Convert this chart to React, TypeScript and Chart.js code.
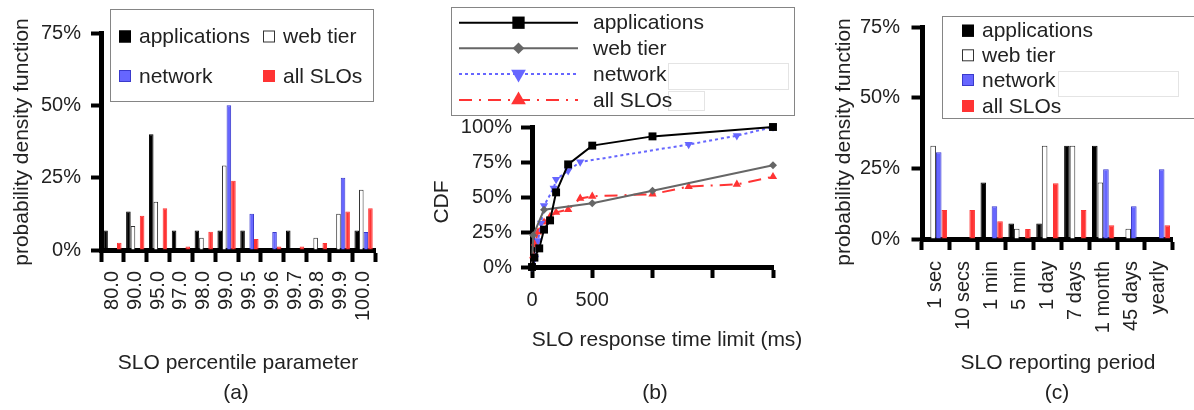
import React, { useEffect, useRef } from 'react';
import { Chart, registerables } from 'chart.js';

Chart.register(...registerables);

const FONT = "'Liberation Sans', Arial, sans-serif";
const TEXT = '#222';
const LABEL_SIZE = 21;

const seriesNames = ['applications', 'web tier', 'network', 'all SLOs'];

// ---------- (a) SLO percentile parameter ----------
const percentileLabels = ['80.0', '90.0', '95.0', '97.0', '98.0', '99.0', '99.5', '99.6', '99.7', '99.8', '99.9', '100.0'];
const pctApps = [6.7, 13.3, 40, 6.7, 6.7, 6.7, 6.7, 0, 6.7, 0, 0, 6.7];
const pctWeb = [0, 8.3, 16.7, 0, 4.2, 29.2, 0, 0, 0, 4.2, 12.5, 20.8];
const pctNet = [0, 0, 0, 0, 0, 50, 12.5, 6.25, 0, 0, 25, 6.25];
const pctAll = [2.5, 11.8, 14.4, 1.2, 6.3, 23.9, 3.8, 1.2, 1.2, 2.4, 13.3, 14.4];

// ---------- (b) SLO response time limit CDF ----------
const appsMs = [0, 20, 60, 100, 150, 200, 300, 500, 1000, 2000];
const appsCdf = [0, 6.7, 13.3, 26.7, 33.3, 53.3, 73.3, 86.7, 93.3, 100];
const webMs = [0, 10, 100, 500, 1000, 2000];
const webCdf = [0, 22.7, 40.9, 45.5, 54.5, 72.7];
const netMs = [0, 25, 50, 75, 100, 180, 200, 300, 400, 1300, 1700, 2000];
const netCdf = [0, 6.3, 18.8, 31.3, 43.8, 56.3, 62.5, 68.8, 75, 87.5, 93.8, 100];
const allMs = [0, 10, 25, 50, 100, 150, 200, 300, 400, 500, 1000, 1300, 1700, 2000];
const allCdf = [0, 8, 17, 25, 32, 36, 39, 41, 49, 50.5, 52, 57.5, 59, 64.5];
const msTicksShown = [0, 500];

// ---------- (c) SLO reporting period ----------
const periodLabels = ['1 sec', '10 secs', '1 min', '5 min', '1 day', '7 days', '1 month', '45 days', 'yearly'];
const perApps = [0, 0, 20, 5.5, 5.5, 33, 33, 0, 0];
const perWeb = [33, 0, 0, 3.6, 33, 33, 20, 3.6, 0];
const perNet = [30.7, 0, 11.6, 0, 0, 0, 24.7, 11.6, 24.7];
const perAll = [10.3, 10.3, 6.3, 3.5, 19.7, 10.3, 4.9, 0, 4.9];

const barStyles = [
  { backgroundColor: '#000000', borderColor: '#000000' },
  { backgroundColor: '#ffffff', borderColor: '#333333' },
  { backgroundColor: '#6666ff', borderColor: '#3a3acc' },
  { backgroundColor: '#ff3333', borderColor: '#ff3333' },
];

const lineStyles = [
  { color: '#000000', dash: [] as number[], marker: 'square', size: 5.6, lsize: 8.7 },
  { color: '#666666', dash: [] as number[], marker: 'diamond', size: 4, lsize: 5.8 },
  { color: '#6666ff', dash: [3, 3], marker: 'down', size: 4.8, lsize: 8.5 },
  { color: '#ff3333', dash: [13, 7, 2, 7], marker: 'up', size: 4.8, lsize: 8.5 },
];

type TextItem = { text: string; x: number; y: number; rot?: boolean };

function textPlugin(items: TextItem[]) {
  return {
    id: 'texts',
    afterDraw(chart: any) {
      const ctx = chart.ctx;
      ctx.save();
      ctx.fillStyle = TEXT;
      ctx.font = `${LABEL_SIZE}px ${FONT}`;
      ctx.textAlign = 'center';
      ctx.textBaseline = 'middle';
      for (const t of items) {
        ctx.save();
        ctx.translate(t.x, t.y);
        if (t.rot) ctx.rotate(-Math.PI / 2);
        ctx.fillText(t.text, 0, 0);
        ctx.restore();
      }
      ctx.restore();
    },
  };
}

type Box = { x: number; y: number; w: number; h: number };

function drawBoxes(ctx: any, box: Box, ghosts: Box[]) {
  ctx.fillStyle = '#ffffff';
  ctx.fillRect(box.x, box.y, box.w, box.h);
  ctx.strokeStyle = '#858585';
  ctx.lineWidth = 1;
  ctx.strokeRect(box.x + 0.5, box.y + 0.5, box.w, box.h);
  ctx.strokeStyle = '#e4e4e4';
  for (const g of ghosts) ctx.strokeRect(g.x + 0.5, g.y + 0.5, g.w, g.h);
}

function barLegendPlugin(box: Box, pos: { x: number; y: number }[], ghosts: Box[]) {
  return {
    id: 'barLegend',
    afterDraw(chart: any) {
      const ctx = chart.ctx;
      ctx.save();
      drawBoxes(ctx, box, ghosts);
      ctx.font = `${LABEL_SIZE}px ${FONT}`;
      ctx.textBaseline = 'middle';
      ctx.textAlign = 'left';
      chart.data.datasets.forEach((ds: any, i: number) => {
        const p = pos[i];
        ctx.fillStyle = ds.backgroundColor;
        ctx.fillRect(p.x, p.y - 6, 12, 12);
        ctx.strokeStyle = ds.borderColor;
        ctx.lineWidth = 1;
        ctx.strokeRect(p.x + 0.5, p.y - 5.5, 11, 11);
        ctx.fillStyle = TEXT;
        ctx.fillText(ds.label, p.x + 20, p.y + 1);
      });
      ctx.restore();
    },
  };
}

function drawMarker(ctx: any, kind: string, x: number, y: number, r: number, color: string) {
  ctx.save();
  ctx.setLineDash([]);
  ctx.fillStyle = color;
  ctx.beginPath();
  if (kind === 'square') {
    const s = r * Math.SQRT1_2;
    ctx.rect(x - s, y - s, 2 * s, 2 * s);
  } else if (kind === 'diamond') {
    ctx.moveTo(x, y - r);
    ctx.lineTo(x + r, y);
    ctx.lineTo(x, y + r);
    ctx.lineTo(x - r, y);
    ctx.closePath();
  } else if (kind === 'up') {
    ctx.moveTo(x, y - r);
    ctx.lineTo(x + r * 0.866, y + r * 0.5);
    ctx.lineTo(x - r * 0.866, y + r * 0.5);
    ctx.closePath();
  } else {
    ctx.moveTo(x, y + r);
    ctx.lineTo(x + r * 0.866, y - r * 0.5);
    ctx.lineTo(x - r * 0.866, y - r * 0.5);
    ctx.closePath();
  }
  ctx.fill();
  ctx.restore();
}

function lineLegendPlugin(box: Box, rows: number[], x0: number, x1: number, tx: number, ghosts: Box[]) {
  return {
    id: 'lineLegend',
    afterDraw(chart: any) {
      const ctx = chart.ctx;
      ctx.save();
      drawBoxes(ctx, box, ghosts);
      ctx.font = `${LABEL_SIZE}px ${FONT}`;
      ctx.textBaseline = 'middle';
      ctx.textAlign = 'left';
      chart.data.datasets.forEach((ds: any, i: number) => {
        const st = lineStyles[i];
        const y = rows[i];
        ctx.strokeStyle = st.color;
        ctx.lineWidth = 2;
        ctx.setLineDash(st.dash);
        ctx.beginPath();
        ctx.moveTo(x0, y);
        ctx.lineTo(x1, y);
        ctx.stroke();
        ctx.setLineDash([]);
        drawMarker(ctx, st.marker, (x0 + x1) / 2, y, st.lsize, st.color);
        ctx.fillStyle = TEXT;
        ctx.fillText(ds.label, tx, y + 1);
      });
      ctx.restore();
    },
  };
}

const tickFont = { family: FONT, size: 20 };

function barConfig(labels: string[], series: number[][], o: any, extraPlugins: any[]) {
  return {
    type: 'bar',
    data: {
      labels,
      datasets: series.map((d, i) => ({
        label: seriesNames[i],
        data: d,
        ...barStyles[i],
        borderWidth: 1,
        barPercentage: 1,
        categoryPercentage: 0.8,
      })),
    },
    options: {
      animation: false,
      responsive: false,
      maintainAspectRatio: false,
      layout: { padding: o.padding },
      plugins: { legend: { display: false }, tooltip: { enabled: false } },
      scales: {
        x: {
          grid: { display: true, drawOnChartArea: false, offset: true, tickLength: o.xTick, tickWidth: 4, tickColor: '#000' },
          border: { display: true, color: '#000', width: 5 },
          ticks: { autoSkip: false, minRotation: 90, maxRotation: 90, padding: o.xPad, color: TEXT, font: tickFont },
          afterFit: (s: any) => { s.height = o.xHeight; },
        },
        y: {
          min: 0,
          max: 75,
          grid: { display: true, drawOnChartArea: false, tickLength: o.yTick, tickWidth: 4, tickColor: '#000' },
          border: { display: true, color: '#000', width: 5 },
          ticks: { stepSize: 25, padding: o.yPad, color: TEXT, font: tickFont, callback: (v: any) => `${v}%` },
          afterFit: (s: any) => { s.width = o.yWidth; },
        },
      },
    },
    plugins: extraPlugins,
  };
}

function pairs(xs: number[], ys: number[]) {
  return xs.map((x, i) => ({ x, y: ys[i] }));
}

const pointStyleMap: Record<string, any> = { square: 'rect', diamond: 'rectRot', up: 'triangle', down: 'triangle' };

function lineConfig(extraPlugins: any[]) {
  const sets = [
    pairs(appsMs, appsCdf),
    pairs(webMs, webCdf),
    pairs(netMs, netCdf),
    pairs(allMs, allCdf),
  ];
  return {
    type: 'line',
    data: {
      datasets: sets.map((d, i) => {
        const st = lineStyles[i];
        return {
          label: seriesNames[i],
          data: d,
          borderColor: st.color,
          backgroundColor: st.color,
          borderWidth: 2,
          borderDash: st.dash,
          pointStyle: pointStyleMap[st.marker],
          pointRotation: st.marker === 'down' ? 180 : 0,
          pointRadius: st.size,
          pointBorderWidth: 0,
          pointBackgroundColor: st.color,
          tension: 0,
          clip: false,
        };
      }),
    },
    options: {
      animation: false,
      responsive: false,
      maintainAspectRatio: false,
      layout: { padding: { left: 0, right: 37, top: 127, bottom: 0 } },
      plugins: { legend: { display: false }, tooltip: { enabled: false } },
      scales: {
        x: {
          type: 'linear',
          min: 0,
          max: 2000,
          grid: { display: true, drawOnChartArea: false, tickLength: 11, tickWidth: 4, tickColor: '#000' },
          border: { display: true, color: '#000', width: 5 },
          ticks: {
            stepSize: 500,
            padding: 10,
            color: TEXT,
            font: tickFont,
            maxRotation: 0,
            autoSkip: false,
            callback: (v: any) => (msTicksShown.includes(Number(v)) ? String(v) : ''),
          },
          afterFit: (s: any) => { s.height = 143; },
        },
        y: {
          min: 0,
          max: 100,
          grid: { display: true, drawOnChartArea: false, tickLength: 11, tickWidth: 4, tickColor: '#000' },
          border: { display: true, color: '#000', width: 5 },
          ticks: { stepSize: 25, padding: 9, color: TEXT, font: tickFont, callback: (v: any) => `${v}%` },
          afterFit: (s: any) => { s.width = 132; },
        },
      },
    },
    plugins: extraPlugins,
  };
}

function ChartCanvas({ left, width, make }: { left: number; width: number; make: () => any }) {
  const ref = useRef<HTMLCanvasElement>(null);
  useEffect(() => {
    const chart = new Chart(ref.current as HTMLCanvasElement, make());
    return () => chart.destroy();
  }, []);
  return (
    <canvas
      ref={ref}
      width={width}
      height={410}
      style={{ position: 'absolute', left, top: 0, width, height: 410 }}
    />
  );
}

export default function App() {
  const makeA = () =>
    barConfig(
      percentileLabels,
      [pctApps, pctWeb, pctNet, pctAll],
      { padding: { left: 0, right: 25, top: 33, bottom: 0 }, xHeight: 160, yWidth: 101, xTick: 12, xPad: 9, yTick: 10, yPad: 10 },
      [
        barLegendPlugin(
          { x: 110, y: 9, w: 263, h: 92 },
          [
            { x: 119, y: 36.5 },
            { x: 263, y: 36.5 },
            { x: 119, y: 76 },
            { x: 263, y: 76 },
          ],
          []
        ),
        textPlugin([
          { text: 'SLO percentile parameter', x: 238, y: 363 },
          { text: '(a)', x: 236, y: 393 },
          { text: 'probability density function', x: 22, y: 142, rot: true },
        ]),
      ]
    );

  const makeB = () =>
    lineConfig([
      lineLegendPlugin(
        { x: 51, y: 7, w: 343, h: 108 },
        [22.7, 48.3, 74, 100],
        59,
        178,
        193,
        [
          { x: 268, y: 63, w: 120, h: 26 },
          { x: 268, y: 91, w: 36, h: 19 },
        ]
      ),
      textPlugin([
        { text: 'SLO response time limit (ms)', x: 267, y: 340 },
        { text: '(b)', x: 255, y: 393 },
        { text: 'CDF', x: 42, y: 202, rot: true },
      ]),
    ]);

  const makeC = () =>
    barConfig(
      periodLabels,
      [perApps, perWeb, perNet, perAll],
      { padding: { left: 0, right: 2, top: 27, bottom: 0 }, xHeight: 171, yWidth: 122, xTick: 11, xPad: 11, yTick: 10.5, yPad: 11.5 },
      [
        barLegendPlugin(
          { x: 142, y: 16, w: 270, h: 102 },
          [
            { x: 162, y: 30.7 },
            { x: 162, y: 55.3 },
            { x: 162, y: 80 },
            { x: 162, y: 106 },
          ],
          [{ x: 258, y: 71, w: 120, h: 25 }]
        ),
        textPlugin([
          { text: 'SLO reporting period', x: 258, y: 363 },
          { text: '(c)', x: 257, y: 393 },
          { text: 'probability density function', x: 44, y: 142, rot: true },
        ]),
      ]
    );

  return (
    <div style={{ position: 'fixed', left: 0, top: 0, width: 1194, height: 410, background: '#fff', overflow: 'hidden' }}>
      <ChartCanvas left={0} width={400} make={makeA} />
      <ChartCanvas left={400} width={410} make={makeB} />
      <ChartCanvas left={800} width={394} make={makeC} />
    </div>
  );
}
